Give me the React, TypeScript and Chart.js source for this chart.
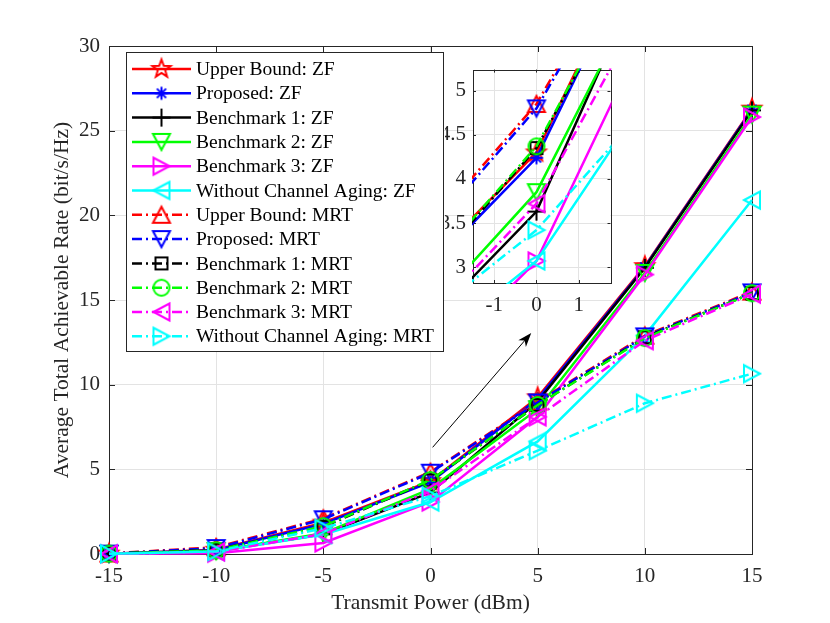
import { useEffect, useRef } from "react";
import Chart from "chart.js/auto";

// transmit power (dBm)
const powers = [-15, -10, -5, 0, 5, 10, 15];

// ZF precoding
const upperZF = [0.02, 0.25, 1.85, 4.3, 9.25, 17.0, 26.3];
const proposedZF = [0.02, 0.22, 1.78, 4.24, 9.15, 16.95, 26.25];
const bench1ZF = [0.01, 0.18, 1.16, 3.63, 9.0, 16.9, 26.2];
const bench2ZF = [0.01, 0.17, 1.22, 3.85, 8.55, 16.6, 25.95];
const bench3ZF = [0.01, 0.05, 0.65, 3.07, 8.1, 16.5, 25.8];
const noAgingZF = [0.01, 0.15, 1.15, 3.07, 6.65, 12.9, 20.9];

// MRT precoding
const upperMRT = [0.03, 0.4, 2.1, 4.85, 9.0, 12.9, 15.5];
const proposedMRT = [0.02, 0.35, 2.05, 4.8, 8.95, 12.85, 15.45];
const bench1MRT = [0.02, 0.25, 1.6, 4.35, 8.8, 12.8, 15.4];
const bench2MRT = [0.02, 0.22, 1.64, 4.37, 8.8, 12.75, 15.4];
const bench3MRT = [0.01, 0.12, 1.19, 3.72, 8.1, 12.6, 15.35];
const noAgingMRT = [0.01, 0.15, 1.52, 3.42, 6.1, 8.9, 10.65];

const xTicks = [-15, -10, -5, 0, 5, 10, 15];
const yTicks = [0, 5, 10, 15, 20, 25, 30];
const insetXTicks = [-1, 0, 1];
const insetYTicks = [3, 3.5, 4, 4.5, 5];

type Marker =
  | "pentagram"
  | "asterisk"
  | "plus"
  | "triUp"
  | "triDown"
  | "triLeft"
  | "triRight"
  | "square"
  | "circle";

const series: { label: string; values: number[]; color: string; marker: Marker; dashed: boolean }[] = [
  { label: "Upper Bound: ZF", values: upperZF, color: "#ff0000", marker: "pentagram", dashed: false },
  { label: "Proposed: ZF", values: proposedZF, color: "#0000ff", marker: "asterisk", dashed: false },
  { label: "Benchmark 1: ZF", values: bench1ZF, color: "#000000", marker: "plus", dashed: false },
  { label: "Benchmark 2: ZF", values: bench2ZF, color: "#00ff00", marker: "triDown", dashed: false },
  { label: "Benchmark 3: ZF", values: bench3ZF, color: "#ff00ff", marker: "triRight", dashed: false },
  { label: "Without Channel Aging: ZF", values: noAgingZF, color: "#00ffff", marker: "triLeft", dashed: false },
  { label: "Upper Bound: MRT", values: upperMRT, color: "#ff0000", marker: "triUp", dashed: true },
  { label: "Proposed: MRT", values: proposedMRT, color: "#0000ff", marker: "triDown", dashed: true },
  { label: "Benchmark 1: MRT", values: bench1MRT, color: "#000000", marker: "square", dashed: true },
  { label: "Benchmark 2: MRT", values: bench2MRT, color: "#00ff00", marker: "circle", dashed: true },
  { label: "Benchmark 3: MRT", values: bench3MRT, color: "#ff00ff", marker: "triLeft", dashed: true },
  { label: "Without Channel Aging: MRT", values: noAgingMRT, color: "#00ffff", marker: "triRight", dashed: true },
];

const FONT = "'Liberation Serif', 'Times New Roman', serif";
const AXIS = "#262626";
const GRID = "#e3e3e3";
const DASH = [10, 4, 2, 4];

function makeMarker(kind: Marker, color: string): HTMLCanvasElement {
  const size = 26;
  const c = document.createElement("canvas");
  c.width = size;
  c.height = size;
  const ctx = c.getContext("2d")!;
  ctx.translate(size / 2, size / 2);
  ctx.strokeStyle = color;
  ctx.lineWidth = 2;
  ctx.beginPath();
  switch (kind) {
    case "pentagram":
      for (let k = 0; k < 10; k++) {
        const a = -Math.PI / 2 + (k * Math.PI) / 5;
        const r = k % 2 ? 3.9 : 9.5;
        if (k === 0) ctx.moveTo(r * Math.cos(a), r * Math.sin(a));
        else ctx.lineTo(r * Math.cos(a), r * Math.sin(a));
      }
      ctx.closePath();
      break;
    case "asterisk":
      ctx.moveTo(0, -6.5); ctx.lineTo(0, 6.5);
      ctx.moveTo(-6.5, 0); ctx.lineTo(6.5, 0);
      ctx.moveTo(-4.6, -4.6); ctx.lineTo(4.6, 4.6);
      ctx.moveTo(-4.6, 4.6); ctx.lineTo(4.6, -4.6);
      break;
    case "plus":
      ctx.moveTo(0, -9); ctx.lineTo(0, 9);
      ctx.moveTo(-9, 0); ctx.lineTo(9, 0);
      break;
    case "triUp":
      ctx.moveTo(0, -8); ctx.lineTo(8.5, 8); ctx.lineTo(-8.5, 8); ctx.closePath();
      break;
    case "triDown":
      ctx.moveTo(0, 8); ctx.lineTo(8.5, -8); ctx.lineTo(-8.5, -8); ctx.closePath();
      break;
    case "triLeft":
      ctx.moveTo(-8, 0); ctx.lineTo(8, -8.5); ctx.lineTo(8, 8.5); ctx.closePath();
      break;
    case "triRight":
      ctx.moveTo(8, 0); ctx.lineTo(-8, -8.5); ctx.lineTo(-8, 8.5); ctx.closePath();
      break;
    case "square":
      ctx.rect(-6, -6, 12, 12);
      break;
    case "circle":
      ctx.arc(0, 0, 8, 0, Math.PI * 2);
      break;
  }
  ctx.stroke();
  return c;
}

function buildDatasets(images: HTMLCanvasElement[], clip: boolean) {
  return series.map((s, i) => ({
    label: s.label,
    data: powers.map((x, j) => ({ x, y: s.values[j] })),
    borderColor: s.color,
    backgroundColor: s.color,
    borderWidth: 2.5,
    borderDash: s.dashed ? DASH : [],
    pointStyle: images[i],
    pointRadius: 8,
    tension: 0,
    order: series.length - i,
    clip: clip ? 1 : false,
  }));
}

// box and inward tick marks, MATLAB style
const boxPlugin = {
  id: "box",
  beforeDatasetsDraw(chart: any, _args: any, opts: any) {
    const { ctx, chartArea: a, scales } = chart;
    ctx.save();
    ctx.strokeStyle = AXIS;
    ctx.lineWidth = 1;
    ctx.strokeRect(Math.round(a.left) + 0.5, Math.round(a.top) + 0.5, Math.round(a.right - a.left), Math.round(a.bottom - a.top));
    const len = opts.len || 6;
    ctx.beginPath();
    (opts.xt as number[]).forEach((v) => {
      const px = Math.round(scales.x.getPixelForValue(v)) + 0.5;
      ctx.moveTo(px, a.bottom); ctx.lineTo(px, a.bottom - len);
      ctx.moveTo(px, a.top); ctx.lineTo(px, a.top + len);
    });
    (opts.yt as number[]).forEach((v) => {
      const py = Math.round(scales.y.getPixelForValue(v)) + 0.5;
      ctx.moveTo(a.left, py); ctx.lineTo(a.left + len, py);
      ctx.moveTo(a.right, py); ctx.lineTo(a.right - len, py);
    });
    ctx.stroke();
    ctx.restore();
  },
};

const whitePlugin = {
  id: "white",
  beforeDraw(chart: any) {
    const { ctx, chartArea: a } = chart;
    ctx.save();
    ctx.fillStyle = "#ffffff";
    ctx.fillRect(a.left, a.top, a.right - a.left, a.bottom - a.top);
    ctx.restore();
  },
};

function axisOptions(min: number, max: number, step: number, size: number, padding: number, horizontal: boolean, title?: string, titlePad?: any) {
  return {
    type: "linear" as const,
    min,
    max,
    ticks: {
      stepSize: step,
      includeBounds: false,
      autoSkip: false,
      maxRotation: 0,
      color: AXIS,
      padding,
      font: { family: FONT, size: 21 },
      callback: (v: number) => String(Math.round(v * 100) / 100),
    },
    grid: { color: GRID, drawTicks: false, lineWidth: 1 },
    border: { display: false },
    title: title
      ? { display: true, text: title, color: AXIS, font: { family: FONT, size: 21.5 }, padding: titlePad }
      : { display: false },
    afterFit: (s: any) => {
      if (horizontal) s.height = size;
      else s.width = size;
    },
  };
}

export default function App() {
  const mainRef = useRef<HTMLCanvasElement | null>(null);
  const insetRef = useRef<HTMLCanvasElement | null>(null);

  useEffect(() => {
    const mainCanvas = mainRef.current;
    const insetCanvas = insetRef.current;
    if (!mainCanvas || !insetCanvas) return;
    const images = series.map((s) => makeMarker(s.marker, s.color));

    const legendPlugin = {
      id: "matlabLegend",
      afterDraw(chart: any) {
        const { ctx } = chart;
        ctx.save();
        ctx.fillStyle = "#ffffff";
        ctx.fillRect(126.5, 52.5, 317, 299);
        ctx.strokeStyle = AXIS;
        ctx.lineWidth = 1;
        ctx.strokeRect(126.5, 52.5, 317, 299);
        ctx.font = `19.5px ${FONT}`;
        ctx.textBaseline = "middle";
        series.forEach((s, i) => {
          const cy = 69 + i * 24.3;
          ctx.strokeStyle = s.color;
          ctx.lineWidth = 2.5;
          ctx.setLineDash(s.dashed ? DASH : []);
          ctx.beginPath();
          ctx.moveTo(132, cy);
          ctx.lineTo(191, cy);
          ctx.stroke();
          ctx.setLineDash([]);
          const img = images[i];
          ctx.drawImage(img, 161.5 - img.width / 2, cy - img.height / 2);
          ctx.fillStyle = "#000000";
          ctx.fillText(s.label, 196, cy + 1);
        });
        ctx.restore();
      },
    };

    const arrowPlugin = {
      id: "arrow",
      afterDatasetsDraw(chart: any) {
        const { ctx, scales } = chart;
        const x0 = scales.x.getPixelForValue(0.1);
        const y0 = scales.y.getPixelForValue(6.3);
        const x1 = scales.x.getPixelForValue(4.7);
        const y1 = scales.y.getPixelForValue(13.05);
        const ang = Math.atan2(y1 - y0, x1 - x0);
        ctx.save();
        ctx.strokeStyle = "#000000";
        ctx.fillStyle = "#000000";
        ctx.lineWidth = 1;
        ctx.beginPath();
        ctx.moveTo(x0, y0);
        ctx.lineTo(x1 - 8 * Math.cos(ang), y1 - 8 * Math.sin(ang));
        ctx.stroke();
        ctx.beginPath();
        ctx.moveTo(x1, y1);
        ctx.lineTo(x1 - 14 * Math.cos(ang) + 5 * Math.sin(ang), y1 - 14 * Math.sin(ang) - 5 * Math.cos(ang));
        ctx.lineTo(x1 - 10 * Math.cos(ang), y1 - 10 * Math.sin(ang));
        ctx.lineTo(x1 - 14 * Math.cos(ang) - 5 * Math.sin(ang), y1 - 14 * Math.sin(ang) + 5 * Math.cos(ang));
        ctx.closePath();
        ctx.fill();
        ctx.restore();
      },
    };

    const mainChart = new Chart(mainCanvas, {
      type: "line",
      data: { datasets: buildDatasets(images, false) as any },
      options: {
        animation: false,
        responsive: false,
        maintainAspectRatio: false,
        layout: { padding: { left: 0, right: 78, top: 46, bottom: 0 } },
        scales: {
          x: axisOptions(-15, 15, 5, 69, 10, true, "Transmit Power (dBm)", { top: 0, bottom: 7 }) as any,
          y: axisOptions(0, 30, 5, 109, 9, false, "Average Total Achievable Rate (bit/s/Hz)", { top: 49, bottom: 0 }) as any,
        },
        plugins: {
          legend: { display: false },
          tooltip: { enabled: false },
          box: { xt: xTicks, yt: yTicks, len: 6 },
        } as any,
      },
      plugins: [boxPlugin, arrowPlugin, legendPlugin],
    });

    const insetChart = new Chart(insetCanvas, {
      type: "line",
      data: { datasets: buildDatasets(images, true) as any },
      options: {
        animation: false,
        responsive: false,
        maintainAspectRatio: false,
        layout: { padding: { left: 0, right: 8, top: 15, bottom: 0 } },
        scales: {
          x: axisOptions(-1.5, 1.75, 1, 37, 10, true) as any,
          y: axisOptions(2.82, 5.24, 0.5, 28, 7, false) as any,
        },
        plugins: {
          legend: { display: false },
          tooltip: { enabled: false },
          box: { xt: insetXTicks, yt: insetYTicks, len: 3 },
        } as any,
      },
      plugins: [whitePlugin, boxPlugin],
    });

    return () => {
      mainChart.destroy();
      insetChart.destroy();
    };
  }, []);

  return (
    <div style={{ position: "absolute", left: 0, top: 0, width: 830, height: 623, background: "#ffffff" }}>
      <canvas ref={mainRef} width={830} height={623} style={{ position: "absolute", left: 0, top: 0, width: 830, height: 623 }} />
      <canvas ref={insetRef} width={176} height={270} style={{ position: "absolute", left: 445, top: 50, width: 176, height: 270 }} />
    </div>
  );
}
